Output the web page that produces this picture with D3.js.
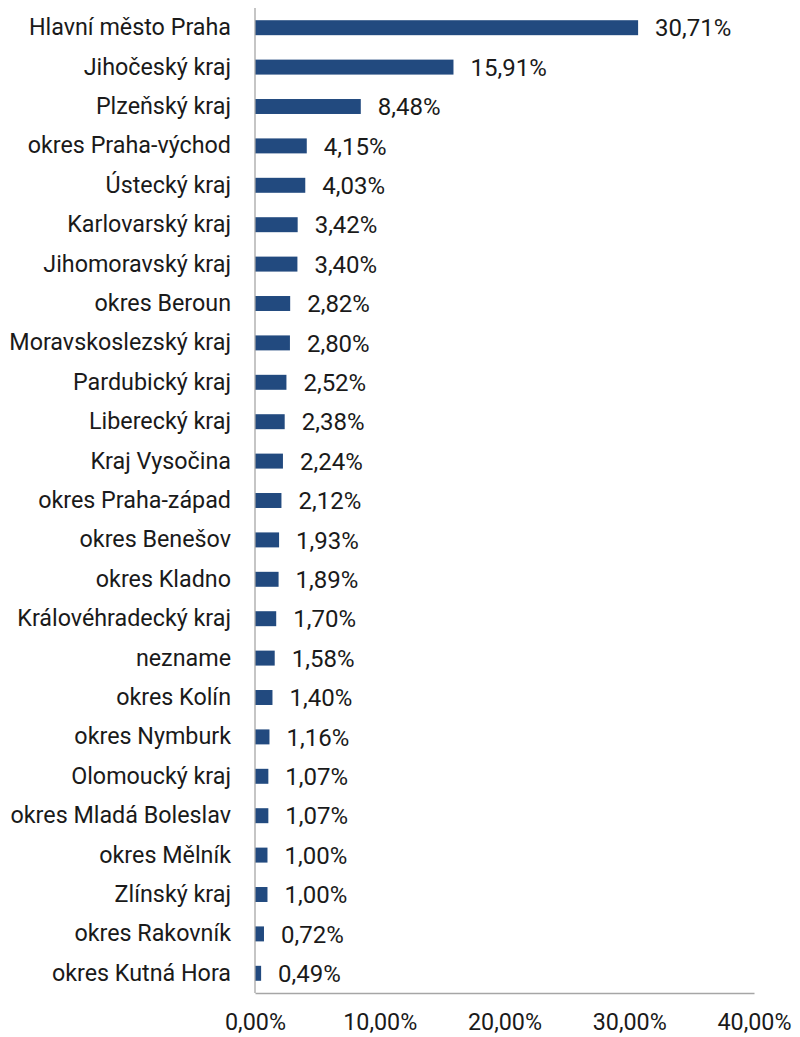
<!DOCTYPE html>
<html><head><meta charset="utf-8">
<script src="https://cdn.jsdelivr.net/npm/d3@7"></script>
<style>body{margin:0;background:#fff}svg{display:block}</style>
</head><body>
<script>
const categories = ["Hlavní město Praha","Jihočeský kraj","Plzeňský kraj","okres Praha-východ","Ústecký kraj","Karlovarský kraj","Jihomoravský kraj","okres Beroun","Moravskoslezský kraj","Pardubický kraj","Liberecký kraj","Kraj Vysočina","okres Praha-západ","okres Benešov","okres Kladno","Královéhradecký kraj","nezname","okres Kolín","okres Nymburk","Olomoucký kraj","okres Mladá Boleslav","okres Mělník","Zlínský kraj","okres Rakovník","okres Kutná Hora"];
const values = [30.71,15.91,8.48,4.15,4.03,3.42,3.40,2.82,2.80,2.52,2.38,2.24,2.12,1.93,1.89,1.70,1.58,1.40,1.16,1.07,1.07,1.00,1.00,0.72,0.49];
const ticks = [0,10,20,30,40];

const W=800,H=1037;
const m={left:255,right:46,top:8,bottom:44};
const font="Roboto, 'Open Sans', sans-serif";
const fs=23.3;
const svg=d3.select("body").append("svg").attr("width",W).attr("height",H);
const x=d3.scaleLinear().domain([0,40]).range([m.left,W-m.right]);
const y=d3.scaleBand().domain(categories).range([m.top,H-m.bottom]).paddingInner(0.62).paddingOuter(0.31);
const fmt=v=>v.toFixed(2).replace(".",",")+"%";

svg.append("g").selectAll("rect").data(values).join("rect")
  .attr("x",x(0)).attr("y",(d,i)=>y(categories[i]))
  .attr("width",d=>x(d)-x(0)).attr("height",y.bandwidth())
  .attr("fill","#224a7f");

svg.append("g").selectAll("text").data(values).join("text")
  .attr("x",d=>x(d)+17).attr("y",(d,i)=>y(categories[i])+y.bandwidth()/2)
  .attr("dy","0.36em").attr("font-family",font).attr("font-size",24).attr("fill","#1a1a1a")
  .text(fmt);

const ya=svg.append("g").attr("transform",`translate(${x(0)},0)`)
  .call(d3.axisLeft(y).tickSize(0).tickPadding(24));
ya.select(".domain").attr("stroke","#a6a6a6").attr("stroke-width",1.3).attr("d",`M0,${m.top}V${H-m.bottom}`);
ya.selectAll("text").attr("font-family",font).attr("font-size",fs).attr("fill","#1a1a1a");

const xa=svg.append("g").attr("transform",`translate(0,${H-m.bottom})`)
  .call(d3.axisBottom(x).tickValues(ticks).tickSize(0).tickPadding(20).tickFormat(d=>fmt(d)));
xa.select(".domain").attr("stroke","#a6a6a6").attr("stroke-width",1.3);
xa.selectAll("text").attr("font-family",font).attr("font-size",fs).attr("fill","#1a1a1a");
</script>
</body></html>
